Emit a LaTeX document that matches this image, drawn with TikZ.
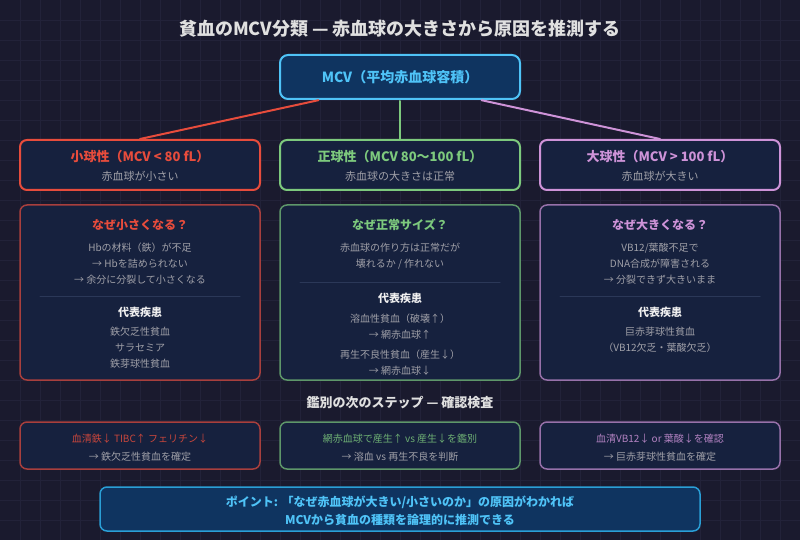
\documentclass[tikz,border=0pt]{standalone}
\usepackage{fontspec}
\setmainfont{Noto Sans CJK JP}
\usepackage{tikz}
\usetikzlibrary{calc}
\usepackage{xcolor}
\definecolor{bgDark}{HTML}{1A1A2E}
\definecolor{gridLine}{HTML}{222239}
\definecolor{boxFill}{HTML}{16213E}
\definecolor{mcvFill}{HTML}{0F3460}
\definecolor{mcvBlue}{HTML}{4FC3F7}
\definecolor{pointBlue}{HTML}{2A9FD6}
\definecolor{microRed}{HTML}{E74C3C}
\definecolor{normoGreen}{HTML}{7DC97D}
\definecolor{macroPurple}{HTML}{CE93D8}
\definecolor{bodyGrey}{HTML}{A0A0A8}
\definecolor{titleWhite}{HTML}{E0E0E0}
\definecolor{ruleLine}{HTML}{2B3858}

\begin{document}
\begin{tikzpicture}[x=1pt,y=-1pt,line cap=round,
  catbox/.style={draw=#1,line width=2pt,fill=boxFill,rounded corners=7pt,minimum width=240pt,minimum height=50pt},
  whybox/.style={draw=#1!70!boxFill,line width=1.5pt,fill=boxFill,rounded corners=7pt,minimum width=240pt,minimum height=175pt},
  nextbox/.style={draw=#1!70!boxFill,line width=1.5pt,fill=boxFill,rounded corners=7pt,minimum width=240pt,minimum height=47pt},
  cattitle/.style={text=#1,font=\fontsize{13}{15}\selectfont\bfseries},
  whytitle/.style={text=#1,font=\fontsize{12}{14}\selectfont\bfseries},
  subtext/.style={text=bodyGrey,font=\fontsize{11}{13}\selectfont},
  bodytext/.style={text=bodyGrey,align=center,font=\fontsize{10}{16}\selectfont},
  diseasehead/.style={text=white!94!black,font=\fontsize{11}{13}\selectfont\bfseries},
  divider/.style={ruleLine,line width=1pt},
  link/.style={line width=2pt,shorten <=1pt}]
\useasboundingbox (0,0) rectangle (800,540);
\fill[bgDark] (0,0) rectangle (800,540);
\foreach \gx in {20,40,...,780} \draw[gridLine,line width=0.7pt] (\gx,0) -- (\gx,540);
\foreach \gy in {20,40,...,520} \draw[gridLine,line width=0.7pt] (0,\gy) -- (800,\gy);

% title
\node[text=titleWhite,font=\fontsize{18}{20}\selectfont\bfseries] (title) at (400,29) {貧血のMCV分類 — 赤血球の大きさから原因を推測する};

% MCV root
\node[draw=mcvBlue,line width=2pt,fill=mcvFill,rounded corners=8pt,minimum width=240pt,minimum height=44pt] (mcv) at (400,77) {};
\node[text=mcvBlue,font=\fontsize{14}{16}\selectfont\bfseries] (mcvT) at (400,77) {MCV（平均赤血球容積）};

% three classes
\node[catbox=microRed] (small) at (140,165) {};
\node[cattitle=microRed] (smallT) at (140,157) {小球性（MCV < 80 fL）};
\node[subtext] (smallS) at (140,176) {赤血球が小さい};

\node[catbox=normoGreen] (normal) at (400,165) {};
\node[cattitle=normoGreen] (normalT) at (400,157) {正球性（MCV 80〜100 fL）};
\node[subtext] (normalS) at (400,176) {赤血球の大きさは正常};

\node[catbox=macroPurple] (large) at (660,165) {};
\node[cattitle=macroPurple] (largeT) at (660,157) {大球性（MCV > 100 fL）};
\node[subtext] (largeS) at (660,176) {赤血球が大きい};

\draw[link,microRed] ($(mcv.south west)!0.1667!(mcv.south east)$) -- (small.north);
\draw[link,normoGreen] (mcv.south) -- (normal.north);
\draw[link,macroPurple] ($(mcv.south west)!0.8333!(mcv.south east)$) -- (large.north);

% why boxes
\node[whybox=microRed] (smallWhy) at (140,292.5) {};
\node[whytitle=microRed] (smallWhyT) at (140,225) {なぜ小さくなる？};
\node[bodytext] (smallWhyB) at (140,264) {Hbの材料（鉄）が不足\\→ Hbを詰められない\\→ 余分に分裂して小さくなる};
\draw[divider] (40,296) -- (240,296);
\node[diseasehead] (smallDx) at (140,312) {代表疾患};
\node[bodytext] (smallDxB) at (140,348) {鉄欠乏性貧血\\サラセミア\\鉄芽球性貧血};

\node[whybox=normoGreen] (normalWhy) at (400,292.5) {};
\node[whytitle=normoGreen] (normalWhyT) at (400,225) {なぜ正常サイズ？};
\node[bodytext] (normalWhyB) at (400,256) {赤血球の作り方は正常だが\\壊れるか / 作れない};
\draw[divider] (300,282) -- (500,282);
\node[diseasehead] (normalDx) at (400,298) {代表疾患};
\node[bodytext] (normalDxA) at (400,326.5) {溶血性貧血（破壊↑）\\→ 網赤血球↑};
\node[bodytext] (normalDxB) at (400,363) {再生不良性貧血（産生↓）\\→ 網赤血球↓};

\node[whybox=macroPurple] (largeWhy) at (660,292.5) {};
\node[whytitle=macroPurple] (largeWhyT) at (660,225) {なぜ大きくなる？};
\node[bodytext] (largeWhyB) at (660,264) {VB12/葉酸不足で\\DNA合成が障害される\\→ 分裂できず大きいまま};
\draw[divider] (560,296) -- (760,296);
\node[diseasehead] (largeDx) at (660,312) {代表疾患};
\node[bodytext] (largeDxB) at (660,340) {巨赤芽球性貧血\\（VB12欠乏・葉酸欠乏）};

% next step
\node[text=titleWhite,font=\fontsize{13}{15}\selectfont\bfseries] (nextT) at (400,403) {鑑別の次のステップ — 確認検査};

\node[nextbox=microRed] (smallNext) at (140,445.5) {};
\node[bodytext,align=center,font=\fontsize{10}{18}\selectfont] (smallNextB) at (140,448) {\textcolor{microRed!85!boxFill}{血清鉄↓ TIBC↑ フェリチン↓}\\→ 鉄欠乏性貧血を確定};

\node[nextbox=normoGreen] (normalNext) at (400,445.5) {};
\node[bodytext,align=center,font=\fontsize{10}{18}\selectfont] (normalNextB) at (400,448) {\textcolor{normoGreen!85!boxFill}{網赤血球で産生↑ vs 産生↓を鑑別}\\→ 溶血 vs 再生不良を判断};

\node[nextbox=macroPurple] (largeNext) at (660,445.5) {};
\node[bodytext,align=center,font=\fontsize{10}{18}\selectfont] (largeNextB) at (660,448) {\textcolor{macroPurple!85!boxFill}{血清VB12↓ or 葉酸↓を確認}\\→ 巨赤芽球性貧血を確定};

% point
\node[draw=pointBlue,line width=1.5pt,fill=mcvFill,rounded corners=7pt,minimum width=600pt,minimum height=44pt] (point) at (400,509) {};
\node[text=mcvBlue,align=center,font=\fontsize{12}{18}\selectfont\bfseries] (pointT) at (400,511) {ポイント: 「なぜ赤血球が大きい/小さいのか」の原因がわかれば\\MCVから貧血の種類を論理的に推測できる};
\end{tikzpicture}
\end{document}
